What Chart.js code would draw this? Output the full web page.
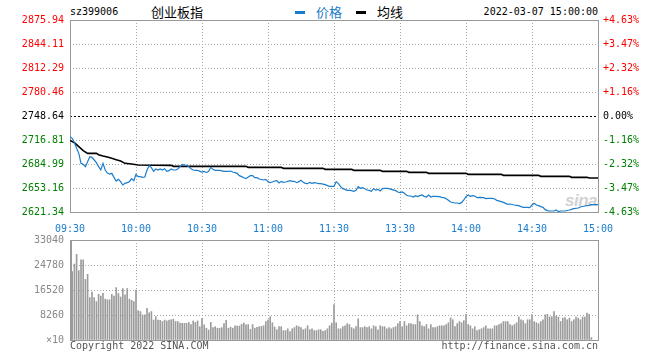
<!DOCTYPE html>
<html><head><meta charset="utf-8">
<script src="https://cdn.jsdelivr.net/npm/chart.js@4.4.0/dist/chart.umd.min.js"></script>
<style>
html,body{margin:0;padding:0;background:#fff;}
#wrap{position:relative;width:660px;height:360px;overflow:hidden;font-family:"DejaVu Sans Mono",monospace;}
canvas{position:absolute;left:0;top:0;}
.t{position:absolute;white-space:nowrap;font-size:10px;line-height:14px;height:14px;}
.cjk{position:absolute;white-space:nowrap;font-family:"Noto Sans CJK SC",sans-serif;font-size:13px;line-height:18px;height:18px;}
.mk{position:absolute;width:10px;height:3px;}
#sina{position:absolute;left:565px;top:191px;font:italic bold 17px "Liberation Sans",sans-serif;color:#d2d2d2;letter-spacing:-0.5px;}
</style></head><body>
<div id="wrap">
  <div class="t" style="left:70px;top:5px;color:#000">sz399006</div>
  <div class="cjk" style="left:151px;top:3px;color:#000">创业板指</div>
  <div class="mk" style="left:295px;top:11px;background:#1a7ccc"></div>
  <div class="cjk" style="left:316px;top:3px;color:#1a7ccc">价格</div>
  <div class="mk" style="left:356px;top:11px;background:#000"></div>
  <div class="cjk" style="left:377px;top:3px;color:#000">均线</div>
  <div class="t" style="right:62px;top:5px;color:#000">2022-03-07 15:00:00</div>
  <div id="sina">sina</div>
  <canvas id="c1" width="660" height="360"></canvas>
  <canvas id="c2" width="660" height="360"></canvas>
  <div class="t" style="left:70px;top:339px;color:#555">Copyright 2022 SINA.COM</div>
  <div class="t" style="right:62px;top:339px;color:#555">http://finance.sina.com.cn</div>
</div>
<script>
// ---------- data ----------
const prevClose = 2748.64;
const timeLabels = ['09:30','10:00','10:30','11:00','11:30','13:30','14:00','14:30','15:00'];
const priceTickLabels = ['2621.34','2653.16','2684.99','2716.81','2748.64','2780.46','2812.29','2844.11','2875.94'];
const pctTickLabels = ['-4.63%','-3.47%','-2.32%','-1.16%','0.00%','+1.16%','+2.32%','+3.47%','+4.63%'];
const volTickValues = [0, 8260, 16520, 24780, 33040];
const volTickLabels = ['×10','8260','16520','24780','33040'];

const priceMin = [0,1,2,3,4,5,6,7,8,9,10,11,12,13,14,15,16,17,18,19,20,21,22,23,24,25,26,27,28,29,30,31,32,33,34,35,36,37,38,39,40,41,42,43,44,45,46,47,48,49,50,51,52,53,54,55,56,57,58,60,61,62,63,64,65,66,68,70,72,73,74,75,76,77,78,79,80,81,82,83,84,85,86,88,89,90,91,92,93,94,95,96,97,98,100,101,102,103,104,105,106,107,108,109,110,111,112,113,114,116,117,118,120,121,122,123,124,125,126,127,128,129,130,131,132,133,134,135,136,137,138,139,140,141,142,143,144,145,146,148,149,150,151,152,153,154,155,156,157,158,159,160,161,162,163,164,165,166,168,169,170,171,172,173,175,176,177,178,179,180,181,182,183,184,185,186,188,189,190,192,193,194,196,197,198,199,200,202,203,204,205,206,208,209,210,211,212,213,214,215,216,217,218,220,221,222,223,225,227,228,229,231,232,234,236,237,240];
const priceVal = [2721.23,2719.02,2713.27,2705.76,2699.13,2685.87,2684.54,2681.45,2688.08,2694.71,2693.83,2690.29,2686.75,2681.45,2677.03,2685.87,2677.03,2673.05,2671.73,2672.61,2667.31,2662.44,2664.65,2661.56,2657.14,2659.35,2660.23,2661.56,2665.54,2662.89,2671.28,2668.19,2668.19,2667.31,2667.75,2677.03,2682.78,2680.12,2675.26,2678.36,2677.03,2678.36,2677.03,2678.80,2675.26,2676.15,2678.36,2677.03,2677.03,2678.36,2681.45,2684.54,2683.66,2683.22,2681.45,2678.80,2677.03,2676.59,2676.59,2674.38,2675.26,2673.49,2675.26,2680.57,2677.91,2676.59,2676.59,2675.26,2675.26,2675.70,2674.38,2673.49,2672.61,2669.52,2668.19,2666.86,2665.54,2667.75,2669.52,2669.52,2666.86,2666.86,2665.10,2663.77,2664.65,2661.56,2660.23,2661.12,2662.44,2662.89,2659.79,2662.00,2660.67,2661.12,2662.89,2662.00,2662.00,2660.23,2661.56,2663.33,2660.67,2659.35,2658.91,2660.67,2659.35,2660.23,2659.79,2658.91,2658.91,2657.58,2656.26,2655.37,2655.37,2661.56,2658.91,2654.93,2652.28,2651.39,2650.07,2650.07,2649.63,2648.74,2650.07,2654.93,2652.72,2653.60,2652.28,2650.51,2650.07,2648.74,2652.28,2650.51,2651.39,2649.19,2652.28,2652.72,2652.72,2652.28,2651.39,2649.63,2647.86,2646.97,2647.86,2646.09,2643.44,2642.55,2642.55,2641.23,2642.99,2641.67,2643.00,2643.88,2642.11,2641.23,2643.88,2641.23,2642.11,2642.11,2641.67,2640.79,2640.34,2639.02,2636.81,2634.60,2633.27,2633.27,2632.39,2633.71,2637.25,2641.67,2643.88,2642.11,2643.00,2642.55,2640.34,2640.79,2640.34,2639.02,2639.46,2639.46,2638.58,2636.81,2635.04,2634.16,2632.83,2631.51,2631.95,2630.62,2630.18,2629.74,2628.41,2627.53,2627.53,2627.09,2630.62,2632.83,2630.62,2629.74,2628.41,2627.53,2624.43,2623.11,2622.67,2622.67,2623.99,2621.78,2622.67,2622.67,2623.99,2624.88,2625.76,2626.64,2627.97,2629.30,2630.18,2631.06,2631.06];

const avgMin = [0,2,4,6,8,12,13,15,17,19,21,23,25,28,31,46,47,80,81,96,97,115,116,128,129,141,142,153,154,162,163,180,181,196,197,213,214,227,228,235,236,240];
const avgVal = [2716.37,2713.27,2707.97,2702.67,2699.13,2699.13,2697.36,2695.60,2694.27,2692.50,2690.73,2688.96,2685.87,2684.99,2683.66,2683.22,2681.89,2681.89,2680.57,2680.57,2679.24,2679.24,2677.91,2677.91,2676.59,2676.59,2675.26,2675.26,2673.94,2673.94,2672.61,2672.61,2671.28,2671.28,2669.96,2669.96,2668.63,2668.63,2667.31,2667.31,2666.42,2666.42];

const volume = [22000,22600,25100,28300,22900,26500,26500,20000,21700,14000,15800,14000,12700,15100,14500,15400,13500,13300,13300,15100,
14500,17300,15400,14200,17000,14900,17000,13500,13100,12700,16500,9700,9400,8300,8300,10500,9000,9400,6600,7700,
6600,6500,6100,6600,6300,6600,6700,6900,6100,6100,5600,5500,5500,5500,5800,5100,6300,5800,6300,4400,
7200,5000,3900,3300,5800,4100,4400,3900,3900,4100,5400,6500,3900,4200,3900,4700,4600,4600,5200,5600,
5000,5100,3500,5100,3900,4200,4400,4500,4700,6100,6700,7700,5700,4300,3400,4400,4400,3100,3100,3700,
2750,3700,4100,4700,4400,4100,3400,3700,4700,3400,3700,3100,3100,3400,3400,2900,3100,3700,4700,5600,
11700,5700,3700,3700,4400,4700,5400,5100,4100,3700,4400,7000,4100,4100,4400,4100,4400,3700,4700,4400,
3400,4700,4400,4400,3700,4100,3700,4100,4400,5400,6100,4400,6100,4700,5400,5400,5100,5100,8300,6100,
4700,4400,5100,3700,5100,4100,4100,4400,4700,4700,4700,5100,5700,7300,6700,4400,5400,6100,5700,6400,
8500,5100,4700,3700,4400,3100,3400,3700,4100,4700,3700,3700,3700,4700,4700,5100,5400,6100,6100,6100,
5100,4700,5100,5700,7600,6700,6400,5400,6700,6700,8400,6100,5700,5400,6100,6700,8300,8500,7600,7700,
9400,7900,7600,6100,7200,7400,6700,7200,6100,6700,7600,7200,6700,7600,7600,8900,8500,800];

// ---------- styling helpers ----------
const MONO = 'DejaVu Sans Mono';
const BLUE = '#1a7ccc';
const GRID = '#a8a8a8';
const FRAME = '#999';
const tickMinutes = timeLabels.map((_, i) => i * 30);
const priceTickValues = priceTickLabels.map(parseFloat);
const isPrev = v => Math.abs(v - prevClose) < 0.01;

const framePlugin = {
  id: 'frame',
  beforeDatasetsDraw(chart, args, opts) {
    const {ctx, chartArea: a} = chart;
    ctx.save();
    ctx.strokeStyle = FRAME;
    ctx.lineWidth = 1;
    const l = Math.round(a.left), t = Math.round(a.top), r = Math.round(a.right), b = Math.round(a.bottom);
    ctx.strokeRect(l + 0.5, t + 0.5, r - l, b - t);
    if (opts && opts.thickLeft) {
      ctx.fillStyle = FRAME;
      ctx.fillRect(l, t, 2, b - t + 1);
    }
    ctx.restore();
  }
};

const xCommon = {
  type: 'linear', min: 0, max: 240, offset: false,
  afterBuildTicks: s => { s.ticks = tickMinutes.map(v => ({value: v})); },
  grid: {color: GRID, drawTicks: false, offset: false},
  border: {display: false, dash: [1, 2]}
};

// ---------- price chart ----------
new Chart(document.getElementById('c1'), {
  type: 'line',
  data: {
    datasets: [
      {label: '价格', data: priceMin.map((m, i) => ({x: m, y: priceVal[i]})),
       borderColor: BLUE, borderWidth: 1.2, pointRadius: 0, tension: 0, yAxisID: 'y'},
      {label: '均线', data: avgMin.map((m, i) => ({x: m, y: avgVal[i]})),
       borderColor: '#000', borderWidth: 1.6, pointRadius: 0, tension: 0, yAxisID: 'y'}
    ]
  },
  options: {
    responsive: false, animation: false, devicePixelRatio: 1,
    layout: {padding: {top: 20, left: 0, right: 0, bottom: 0}},
    plugins: {legend: {display: false}, tooltip: {enabled: false}, frame: {}},
    scales: {
      x: Object.assign({}, xCommon, {
        afterFit: s => { s.height = 148; },
        ticks: {padding: 11, autoSkip: false, maxRotation: 0, color: BLUE,
                font: {family: MONO, size: 10},
                callback: (v, i) => timeLabels[i]}
      }),
      y: {
        position: 'left', min: 2621.34, max: 2875.94,
        afterBuildTicks: s => { s.ticks = priceTickValues.map(v => ({value: v})); },
        afterFit: s => { s.width = 70; },
        grid: {drawTicks: false, color: c => (c.tick && isPrev(c.tick.value)) ? '#000' : GRID},
        border: {display: false, dash: c => (c.tick && isPrev(c.tick.value)) ? [2, 2] : [1, 2]},
        ticks: {padding: 6, font: {family: MONO, size: 10},
                color: c => { const v = c.tick ? c.tick.value : prevClose; return v > prevClose + 0.01 ? '#ff0000' : (v < prevClose - 0.01 ? '#008000' : '#000'); },
                callback: (v, i) => priceTickLabels[i]}
      },
      y2: {
        position: 'right', min: 2621.34, max: 2875.94,
        afterBuildTicks: s => { s.ticks = priceTickValues.map(v => ({value: v})); },
        afterFit: s => { s.width = 62; },
        grid: {display: false, drawTicks: false},
        border: {display: false},
        ticks: {padding: 5, font: {family: MONO, size: 10},
                color: c => { const v = c.tick ? c.tick.value : prevClose; return v > prevClose + 0.01 ? '#ff0000' : (v < prevClose - 0.01 ? '#008000' : '#000'); },
                callback: (v, i) => pctTickLabels[i]}
      }
    }
  },
  plugins: [framePlugin]
});

// ---------- volume chart ----------
new Chart(document.getElementById('c2'), {
  type: 'bar',
  data: {
    datasets: [{label: '成交量', data: volume.map((v, i) => ({x: i, y: v})),
                backgroundColor: '#9c9c9c', borderWidth: 0, barThickness: 1, grouped: false}]
  },
  options: {
    responsive: false, animation: false, devicePixelRatio: 1,
    layout: {padding: {top: 240, left: 0, right: 62, bottom: 0}},
    plugins: {legend: {display: false}, tooltip: {enabled: false}, frame: {thickLeft: true}},
    scales: {
      x: Object.assign({}, xCommon, {
        afterFit: s => { s.height = 20; },
        ticks: {display: false}
      }),
      y: {
        position: 'left', min: 0, max: 33040,
        afterBuildTicks: s => { s.ticks = volTickValues.map(v => ({value: v})); },
        afterFit: s => { s.width = 70; },
        grid: {drawTicks: false, color: GRID},
        border: {display: false, dash: [1, 2]},
        ticks: {padding: 6, color: '#888', font: {family: MONO, size: 10},
                callback: (v, i) => volTickLabels[i]}
      }
    }
  },
  plugins: [framePlugin]
});
</script>
</body></html>
